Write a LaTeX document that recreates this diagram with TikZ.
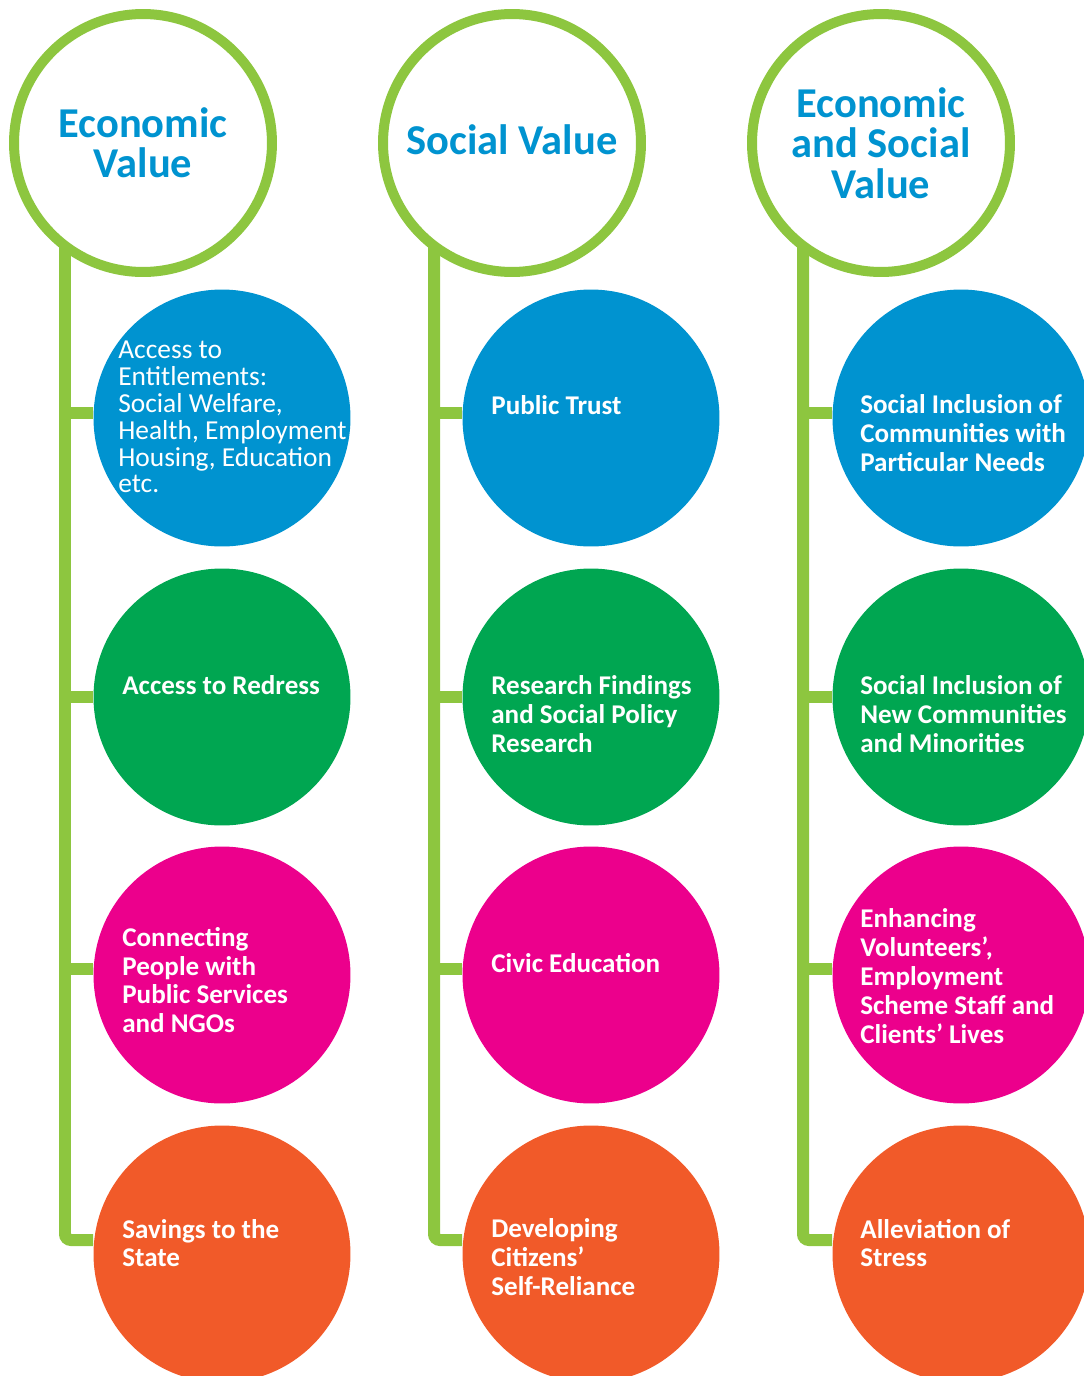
\documentclass[tikz,border=0pt]{standalone}
\usepackage{fontspec}
\setmainfont{Carlito}
\usepackage{tikz}

\definecolor{ringgreen}{RGB}{141,198,63}
\definecolor{valblue}{RGB}{0,147,208}
\definecolor{valgreen}{RGB}{0,166,81}
\definecolor{valpink}{RGB}{236,0,140}
\definecolor{valorange}{RGB}{241,90,41}

\begin{document}
\begin{tikzpicture}[x=0.02cm,y=-0.02cm]
\tikzstyle{head}=[circle,draw=ringgreen,line width=0.2cm,fill=white,minimum size=5.16cm,inner sep=0pt,align=center,text=valblue,font=\fontsize{24.2}{23}\selectfont\bfseries];
\tikzstyle{item}=[circle,minimum size=5.14cm,inner sep=0pt];
\tikzstyle{itemtext}=[anchor=west,align=left,text=white,inner sep=0pt,font=\fontsize{15.4}{16.4}\selectfont\bfseries];
\tikzstyle{trunk}=[draw=ringgreen,line width=0.24cm];
\useasboundingbox (0,0) rectangle (1083,1376);
% headers
    \node[head] (h1) at (143,143) {Economic\\Value};
    \node[head] (h2) at (512,143) {\raisebox{0.14cm}{Social Value}};
    \node[head] (h3) at (881,143) {Economic\\and Social\\Value};
% value circles
    \node[item,fill=valblue]   (c11) at (222,418)  {};
    \node[item,fill=valgreen]  (c12) at (222,697)  {};
    \node[item,fill=valpink]   (c13) at (222,975)  {};
    \node[item,fill=valorange] (c14) at (222,1254) {};
    \node[item,fill=valblue]   (c21) at (591,418)  {};
    \node[item,fill=valgreen]  (c22) at (591,697)  {};
    \node[item,fill=valpink]   (c23) at (591,975)  {};
    \node[item,fill=valorange] (c24) at (591,1254) {};
    \node[item,fill=valblue]   (c31) at (961,418)  {};
    \node[item,fill=valgreen]  (c32) at (961,697)  {};
    \node[item,fill=valpink]   (c33) at (961,975)  {};
    \node[item,fill=valorange] (c34) at (961,1254) {};
% texts
    \node[itemtext,font=\fontsize{15.6}{15.3}\selectfont] (t11) at (118,417) {Access to\\Entitlements:\\Social Welfare,\\Health, Employment\\Housing, Education\\etc.};
    \node[itemtext] (t12) at (122,685)  {Access to Redress};
    \node[itemtext] (t13) at (122,980)  {Connecting\\People with\\Public Services\\and NGOs};
    \node[itemtext] (t14) at (122,1243) {Savings to the\\State};
    \node[itemtext] (t21) at (491,405)  {Public Trust};
    \node[itemtext] (t22) at (491,714)  {Research Findings\\and Social Policy\\Research};
    \node[itemtext] (t23) at (491,963)  {Civic Education};
    \node[itemtext] (t24) at (491,1257) {Developing\\Citizens’\\Self-Reliance};
    \node[itemtext] (t31) at (860,433)  {Social Inclusion of\\Communities with\\Particular Needs};
    \node[itemtext] (t32) at (860,714)  {Social Inclusion of\\New Communities\\and Minorities};
    \node[itemtext] (t33) at (860,976)  {Enhancing\\Volunteers\symbol{39},\\Employment\\Scheme Staff and\\Clients’ Lives};
    \node[itemtext] (t34) at (860,1243) {Alleviation of\\Stress};
% trunk points
    \coordinate (top1) at (65,246);
    \coordinate (j11) at (65,413);
    \coordinate (j12) at (65,697);
    \coordinate (j13) at (65,969);
    \coordinate (j14) at (65,1240);
    \coordinate (top2) at (434,246);
    \coordinate (j21) at (434,413);
    \coordinate (j22) at (434,697);
    \coordinate (j23) at (434,969);
    \coordinate (j24) at (434,1240);
    \coordinate (top3) at (803,246);
    \coordinate (j31) at (803,413);
    \coordinate (j32) at (803,697);
    \coordinate (j33) at (803,969);
    \coordinate (j34) at (803,1240);
% trunks
    \draw[trunk,rounded corners=0.12cm] (top1) |- (j14 -| c14.west);
    \draw[trunk] (j11) -- (j11 -| c11.west);
    \draw[trunk] (j12) -- (j12 -| c12.west);
    \draw[trunk] (j13) -- (j13 -| c13.west);
    \draw[trunk,rounded corners=0.12cm] (top2) |- (j24 -| c24.west);
    \draw[trunk] (j21) -- (j21 -| c21.west);
    \draw[trunk] (j22) -- (j22 -| c22.west);
    \draw[trunk] (j23) -- (j23 -| c23.west);
    \draw[trunk,rounded corners=0.12cm] (top3) |- (j34 -| c34.west);
    \draw[trunk] (j31) -- (j31 -| c31.west);
    \draw[trunk] (j32) -- (j32 -| c32.west);
    \draw[trunk] (j33) -- (j33 -| c33.west);
\end{tikzpicture}
\end{document}
